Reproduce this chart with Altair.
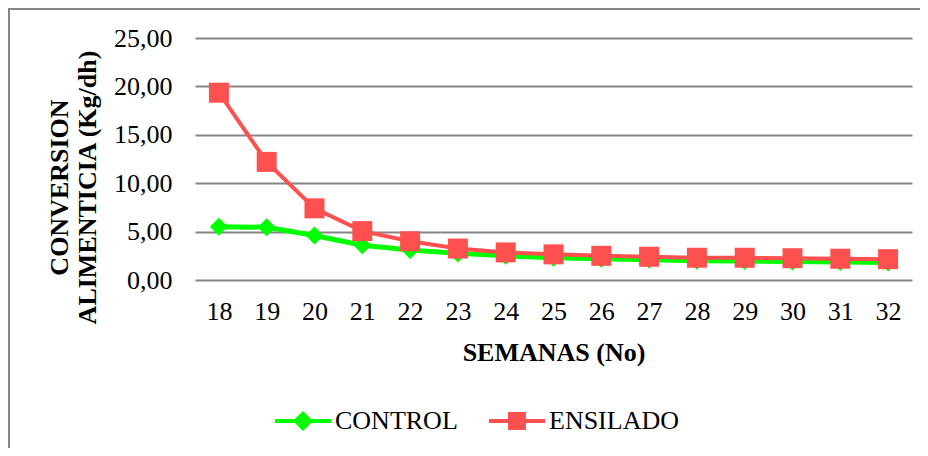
import altair as alt
import pandas as pd

weeks = list(range(18, 33))
control = [5.5, 5.45, 4.6, 3.6, 3.1, 2.75, 2.5, 2.3, 2.2, 2.1, 2.0, 1.95, 1.9, 1.85, 1.8]
ensilado = [19.35, 12.2, 7.4, 5.05, 4.0, 3.25, 2.85, 2.65, 2.5, 2.4, 2.3, 2.3, 2.25, 2.2, 2.15]
series_names = ["CONTROL", "ENSILADO"]
series_colors = ["#00FF00", "#FF5050"]
y_ticks = [0, 5, 10, 15, 20, 25]

rows = []
for w, c, e in zip(weeks, control, ensilado):
    rows.append({"semana": w, "valor": c, "serie": series_names[0]})
    rows.append({"semana": w, "valor": e, "serie": series_names[1]})
df = pd.DataFrame(rows)

FONT = "Liberation Serif"
W, H = 717, 242

x_enc = alt.X(
    "semana:O",
    scale=alt.Scale(type="point", padding=0.5),
    axis=alt.Axis(
        title="SEMANAS (No)",
        labelAngle=0,
        labelBaseline="middle",
        labelPadding=31,
        labelFont=FONT,
        labelFontSize=26,
        labelColor="#000000",
        ticks=False,
        domain=False,
        grid=False,
        titleFont=FONT,
        titleFontSize=26,
        titleFontWeight="bold",
        titleColor="#000000",
        titleX=W / 2,
        titleY=72,
        titleBaseline="middle",
        titleAnchor="middle",
    ),
)
y_enc = alt.Y(
    "valor:Q",
    scale=alt.Scale(domain=[0, 25], nice=False, zero=True),
    axis=alt.Axis(
        title=["CONVERSION", "ALIMENTICIA (Kg/dh)"],
        values=y_ticks,
        labelExpr="replace(format(datum.value, '.2f'), '.', ',')",
        labelPadding=23,
        labelFont=FONT,
        labelFontSize=26,
        labelColor="#000000",
        ticks=False,
        domain=False,
        grid=True,
        gridColor="#868686",
        gridWidth=2,
        titleFont=FONT,
        titleFontSize=26,
        titleFontWeight="bold",
        titleColor="#000000",
        titleX=-136,
        titleY=149,
        titleAngle=-90,
        titleBaseline="middle",
        titleAlign="center",
        titleLineHeight=28,
    ),
)

base = alt.Chart(df)

frame = base.mark_rect(fill=None, stroke="#878787", strokeWidth=2).encode(
    x=alt.value(-186), x2=alt.value(760), y=alt.value(-29), y2=alt.value(460)
).transform_filter("datum.semana == 18 && datum.serie == 'CONTROL'")

def series_layers(name, color, width, shape, size):
    d = base.transform_filter(alt.datum.serie == name)
    line = d.mark_line(color=color, strokeWidth=width).encode(x=x_enc, y=y_enc)
    pts = d.mark_point(filled=True, shape=shape, size=size, color=color, opacity=1).encode(
        x=x_enc, y=y_enc
    )
    return [line, pts]

ctrl_layers = series_layers("CONTROL", series_colors[0], 5, "diamond", 324)
ens_layers = series_layers("ENSILADO", series_colors[1], 4, "square", 400)

diamond_path = (
    "M-1,-0.071L1,-0.071L1,0.071L-1,0.071Z "
    "M0,-0.36L0.36,0L0,0.36L-0.36,0Z"
)
square_path = (
    "M-1,-0.071L1,-0.071L1,0.071L-1,0.071Z "
    "M-0.32,-0.32L0.32,-0.32L0.32,0.32L-0.32,0.32Z"
)

# legend carrier: its points sit far outside the y domain and are clipped away
legend_layer = base.transform_filter(alt.datum.semana == 18).transform_calculate(
    valor="-100"
).mark_point(filled=True, opacity=1, clip=True).encode(
    x=x_enc,
    y=y_enc,
    color=alt.Color(
        "serie:N",
        scale=alt.Scale(domain=series_names, range=series_colors),
        legend=alt.Legend(
            title=None,
            orient="none",
            legendX=80,
            legendY=355,
            direction="horizontal",
            symbolSize=3136,
            symbolStrokeWidth=0,
            labelFont=FONT,
            labelFontSize=26,
            labelColor="#000000",
            labelOffset=4,
            columnPadding=31,
            padding=0,
        ),
    ),
    shape=alt.Shape(
        "serie:N",
        scale=alt.Scale(domain=series_names, range=[diamond_path, square_path]),
    ),
)

chart = (
    alt.layer(frame, *ctrl_layers, *ens_layers, legend_layer)
    .properties(
        width=W,
        height=H,
        autosize=alt.AutoSizeParams(type="none"),
        padding={"left": 187, "top": 30, "right": 8, "bottom": 168},
        background="#FFFFFF",
    )
    .configure_view(stroke=None)
)

chart.save("out.html", embed_options={"renderer": "svg", "actions": False})
